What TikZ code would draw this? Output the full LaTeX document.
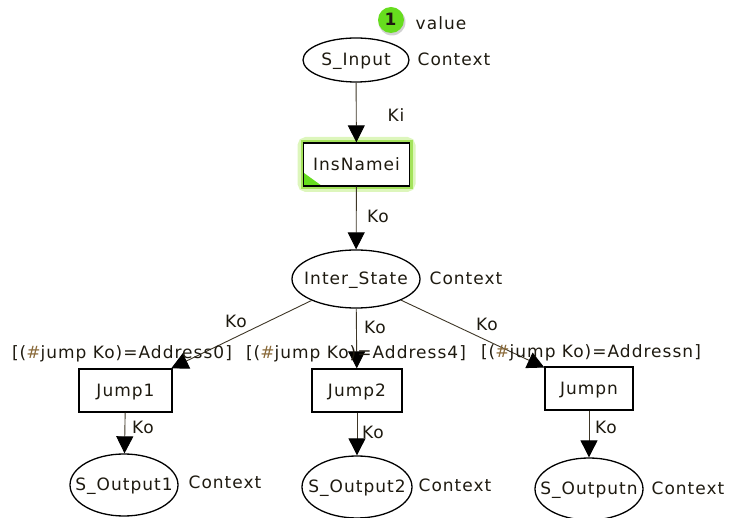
\documentclass[tikz,border=0pt]{standalone}
\usepackage{fontspec}
\setmainfont{DejaVu Sans}[LetterSpace=6]
\usetikzlibrary{arrows.meta,shapes.geometric}

\definecolor{inkc}{HTML}{1E1A10}
\definecolor{edgec}{HTML}{3E3626}
\definecolor{hashc}{HTML}{8A6A3A}
\definecolor{badgec}{HTML}{66DD1E}
\definecolor{glowout}{HTML}{DDF6BC}
\definecolor{glowin}{HTML}{A4E35C}

\newcommand{\hs}{{\color{hashc}\#}}

\tikzset{
  every node/.style={font=\fontsize{17}{20}\selectfont, text=inkc, inner sep=0pt,
    text height=12pt, text depth=0pt},
  place/.style={ellipse, draw=black, line width=1.3pt, fill=white, inner sep=-30pt},
  trans/.style={rectangle, draw=black, line width=1.3pt, fill=white},
  edge/.style={draw=edgec, line width=0.9pt,
    -{Triangle[length=17pt,width=17pt,fill=black,color=black]}},
  tag/.style={anchor=center},
}

\begin{document}
\begin{tikzpicture}[x=1pt,y=-1pt]
\useasboundingbox (0,0) rectangle (729,518);

% token badge on the input place
\fill[black!18] (392,22) circle (13.5);
\node[circle, fill=badgec, minimum size=26pt] (badge) at (391,20) {\textbf{1}};
\node[tag] (val) at (441,24) {value};

% input place
\node[place, minimum width=106pt, minimum height=44pt] (sin) at (356,60) {S\_Input};
\node[tag] (ctx0) at (454,60) {Context};

% highlighted transition with its halo
\draw[glowout, line width=12pt, rounded corners=3pt] (303.5,143) rectangle (409.5,186);
\draw[glowin, line width=6pt] (303.5,143) rectangle (409.5,186);
\node[trans, minimum width=106pt, minimum height=43pt] (ins) at (356.5,164.5) {InsNamei};
\fill[badgec] (304,173) -- (304,186) -- (322,186) -- cycle;
\draw[black, line width=1.3pt] (303.5,143) rectangle (409.5,186);

% intermediate place
\node[place, minimum width=128pt, minimum height=58pt] (inter) at (356,279) {Inter\_State};
\node[tag] (ctx1) at (466,279) {Context};

% jump transitions
\node[trans, minimum width=93pt, minimum height=43pt] (j1) at (125.5,390.5) {Jump1};
\node[trans, minimum width=90pt, minimum height=43pt] (j2) at (357,390.5) {Jump2};
\node[trans, minimum width=88pt, minimum height=43pt] (jn) at (589,388.5) {Jumpn};

% output places
\node[place, minimum width=108pt, minimum height=62pt] (o1) at (124,485) {S\_Output1};
\node[place, minimum width=110pt, minimum height=62pt] (o2) at (357,487) {S\_Output2};
\node[place, minimum width=108pt, minimum height=62pt] (on) at (589,489) {S\_Outputn};
\node[tag] (ctx2) at (225,483) {Context};
\node[tag] (ctx3) at (455,486) {Context};
\node[tag] (ctx4) at (688,489) {Context};

% arcs
\draw[edge] (sin) -- (ins);
\draw[edge] (ins) -- (inter);
\draw[edge] (inter) -- (j1);
\draw[edge] (inter) -- (j2);
\draw[edge] (inter) -- (jn);
\draw[edge] (j1) -- (o1);
\draw[edge] (j2) -- (o2);
\draw[edge] (jn) -- (on);

% arc inscriptions
\node[tag] (k0) at (396,116) {Ki};
\node[tag] (k1) at (378,217) {Ko};
\node[tag] (k2) at (236,322) {Ko};
\node[tag] (k3) at (375,328) {Ko};
\node[tag] (k4) at (487,325) {Ko};
\node[tag] (k5) at (143,428) {Ko};
\node[tag] (k6) at (373,433) {Ko};
\node[tag] (k7) at (606,428) {Ko};

% guards
\node[tag] (g0) at (122,353) {[(\hs jump Ko)=Address0]};
\node[tag] (g1) at (356,353) {[(\hs jump Ko)=Address4]};
\node[tag] (g2) at (591,352) {[(\hs jump Ko)=Addressn]};
\end{tikzpicture}
\end{document}
